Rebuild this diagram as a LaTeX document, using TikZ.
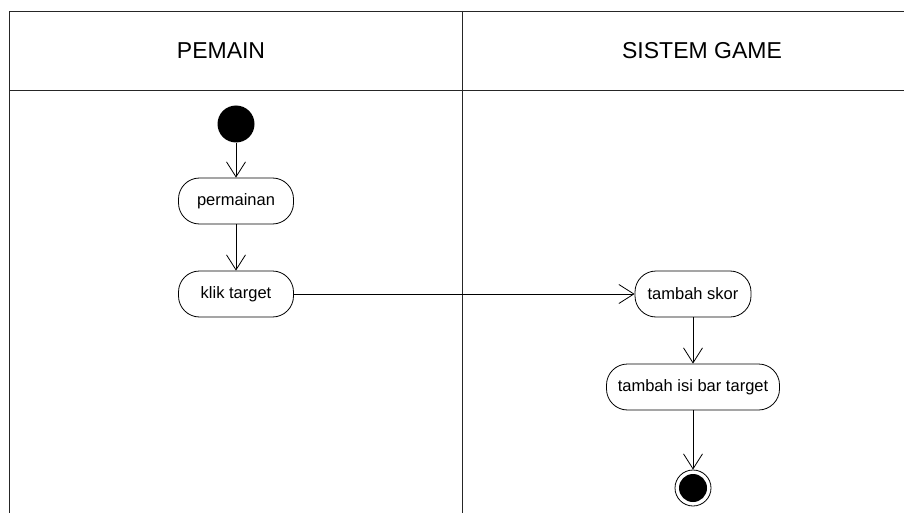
\documentclass[tikz,border=0pt]{standalone}
\usepackage{fontspec}
\setmainfont{Liberation Sans}
\usetikzlibrary{arrows.meta}
\begin{document}
\begin{tikzpicture}[x=1pt,y=-1pt,
  frame/.style={line width=0.9pt, black!85},
  activity/.style={draw, line width=0.8pt, rounded corners=21pt, minimum height=46pt, inner sep=0pt, font=\fontsize{16.5}{18}\selectfont},
  flow/.style={line width=0.8pt, -{Straight Barb[length=15pt,width=19pt,line width=0.8pt]}},
  header/.style={font=\fontsize{23}{26}\selectfont, inner sep=0pt}]
\useasboundingbox (0,0) rectangle (904,513);
% swimlane frame
\draw[frame] (904,11) -- (9,11) -- (9,513);
\draw[frame] (9,90) -- (904,90);
\draw[frame] (462,11) -- (462,513);
\node[header] (h1) at (221,51) {PEMAIN};
\node[header] (h2) at (702,51) {SISTEM GAME};
% nodes
\node[circle, fill=black, minimum size=37pt, inner sep=0pt] (start) at (236,124) {};
\node[activity, minimum width=115pt] (perm) at (236,201) {permainan};
\node[activity, minimum width=115pt] (klik) at (236,294) {klik target};
\node[activity, minimum width=116pt] (skor) at (693,294) {tambah skor};
\node[activity, minimum width=173pt] (bar) at (693,387) {tambah isi bar target};
\node[circle, draw, line width=0.8pt, fill=white, minimum size=36pt, inner sep=0pt] (end) at (693,488) {};
\node[circle, fill=black, minimum size=28pt, inner sep=0pt] (endin) at (693,488) {};
% flows
\draw[flow] (start) -- (perm);
\draw[flow] (perm) -- (klik);
\draw[flow] (klik) -- (skor);
\draw[flow] (skor) -- (bar);
\draw[flow] (bar) -- (end);
\end{tikzpicture}
\end{document}
